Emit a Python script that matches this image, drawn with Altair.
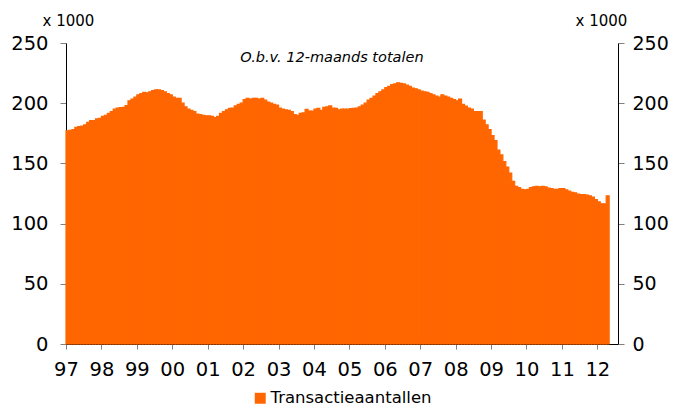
import altair as alt
import pandas as pd

# Monthly 12-month totals (x 1000), Jan 1997 .. Apr 2012
values = [
    177, 177.5, 178, 180, 180.5, 181, 182, 184, 185.5, 185.5, 187, 187.5,          # 1997
    189, 190, 191.5, 193, 195, 196, 196.3, 196.5, 198, 202, 203.5, 205,            # 1998
    207, 208, 209, 208.5, 209.5, 210.5, 211, 211, 210.5, 209.5, 208, 207,          # 1999
    205, 204, 204, 200, 197, 195, 194, 193, 191, 190.5, 190, 189.5,                # 2000
    189.5, 189, 188, 189, 191.5, 193, 194.5, 195.7, 196, 197.7, 199, 200,          # 2001
    203, 204, 203.5, 204, 204, 203.5, 204, 202.5, 201, 200, 199, 198.5,            # 2002
    196, 195, 194.4, 194, 193, 190.5, 190, 191.6, 192, 194.8, 193.5, 193.5,        # 2003
    195, 195.7, 194, 196.6, 197, 197.7, 196, 195.7, 194.5, 195, 195, 195,          # 2004
    195.5, 195.7, 196, 197, 198.5, 200, 202.5, 204, 206, 208, 209.5, 211,          # 2005
    213, 214, 215.5, 216, 217, 216.5, 216, 215, 214, 212.5, 212, 211,              # 2006
    210, 209.5, 209, 208, 207, 206, 205, 207, 206, 205, 204, 203,                  # 2007
    202, 203.5, 199, 197.5, 196, 195, 193, 193, 193, 186, 182, 178,                # 2008
    173, 169, 161, 157, 151.5, 147, 142, 135, 131, 130, 128.5, 128,                # 2009
    128.5, 130, 130.5, 131, 130.5, 131, 130.5, 129.5, 129, 128.5, 128.5, 129,      # 2010
    129, 128, 127, 126, 125.5, 124.5, 124, 124, 123.7, 123, 122, 120,              # 2011
    118, 116.5, 116.3, 123,                                                        # 2012
]
year_labels = ["97", "98", "99", "00", "01", "02", "03", "04", "05", "06",
               "07", "08", "09", "10", "11", "12"]
y_ticks = [0, 50, 100, 150, 200, 250]
series_name = "Transactieaantallen"
title_text = "O.b.v. 12-maands totalen"
unit_text = "x 1000"

month_idx = list(range(len(values)))
df = pd.DataFrame({
    "m": month_idx,
    "m2": [i + 1 for i in month_idx],
    "value": values,
    "series": [series_name] * len(values),
})

FONT = "DejaVu Sans"
ORANGE = "#FF6600"
label_expr = "[" + ",".join("'%s'" % s for s in year_labels) + "][round(datum.value/12)]"

x_enc = alt.X(
    "m:Q",
    scale=alt.Scale(domain=[0, 187], nice=False, zero=False),
    axis=alt.Axis(
        title=None, values=[12 * i for i in range(len(year_labels))],
        labelExpr=label_expr, labelFontSize=19.5, labelFont=FONT, labelColor="black",
        labelPadding=11, tickSize=5, tickColor="#808080", domainColor="black",
        grid=False, labelFlush=False, labelOverlap=False,
    ),
)
x2_enc = alt.X2("m2:Q")
y_scale = alt.Scale(domain=[0, 250], nice=False)

base = alt.Chart(df)

left = base.mark_bar(stroke=ORANGE, strokeWidth=1.2).encode(
    x=x_enc, x2=x2_enc,
    y=alt.Y("value:Q", scale=y_scale, axis=alt.Axis(
        orient="left", values=y_ticks, title=unit_text, titleAngle=0,
        titleX=2, titleY=-23, titleAlign="center", titleBaseline="middle",
        titleFont=FONT, titleFontSize=15, titleFontWeight="normal", titleColor="black",
        labelFont=FONT, labelFontSize=19.5, labelColor="black", labelPadding=12,
        tickSize=6, tickColor="#808080", domainColor="black", grid=False,
    )),
    y2=alt.datum(0),
    color=alt.Color("series:N", scale=alt.Scale(range=[ORANGE]), legend=alt.Legend(
        title=None, orient="none", legendX=186, legendY=347, symbolType="square",
        symbolSize=120, symbolStrokeWidth=0, labelFont=FONT, labelFontSize=16.5,
        labelColor="black", symbolOpacity=1, labelOffset=2, labelLimit=400,
    )),
)

right = base.mark_bar(opacity=0).encode(
    x=x_enc, x2=x2_enc,
    y=alt.Y("value:Q", scale=y_scale, axis=alt.Axis(
        orient="right", values=y_ticks, title=unit_text, titleAngle=0,
        titleX=-17, titleY=-23, titleAlign="center", titleBaseline="middle",
        titleFont=FONT, titleFontSize=15, titleFontWeight="normal", titleColor="black",
        labelFont=FONT, labelFontSize=19, labelColor="black", labelPadding=8,
        tickSize=6, tickColor="#808080", domainColor="black", grid=False,
    )),
    y2=alt.datum(0),
)

chart = alt.layer(left, right).resolve_axis(y="independent").properties(
    width=552, height=301,
    autosize=alt.AutoSizeParams(type="none"),
    padding={"left": 58, "top": 35, "right": 51, "bottom": 64},
    title=alt.TitleParams(
        text=title_text, font=FONT, fontSize=14.5, fontStyle="italic",
        fontWeight="normal", color="black", anchor="middle", frame="group",
        dx=-10, dy=63, baseline="middle",
    ),
).configure_view(stroke=None)

chart.save("out.html", embed_options={"renderer": "svg", "actions": False})
